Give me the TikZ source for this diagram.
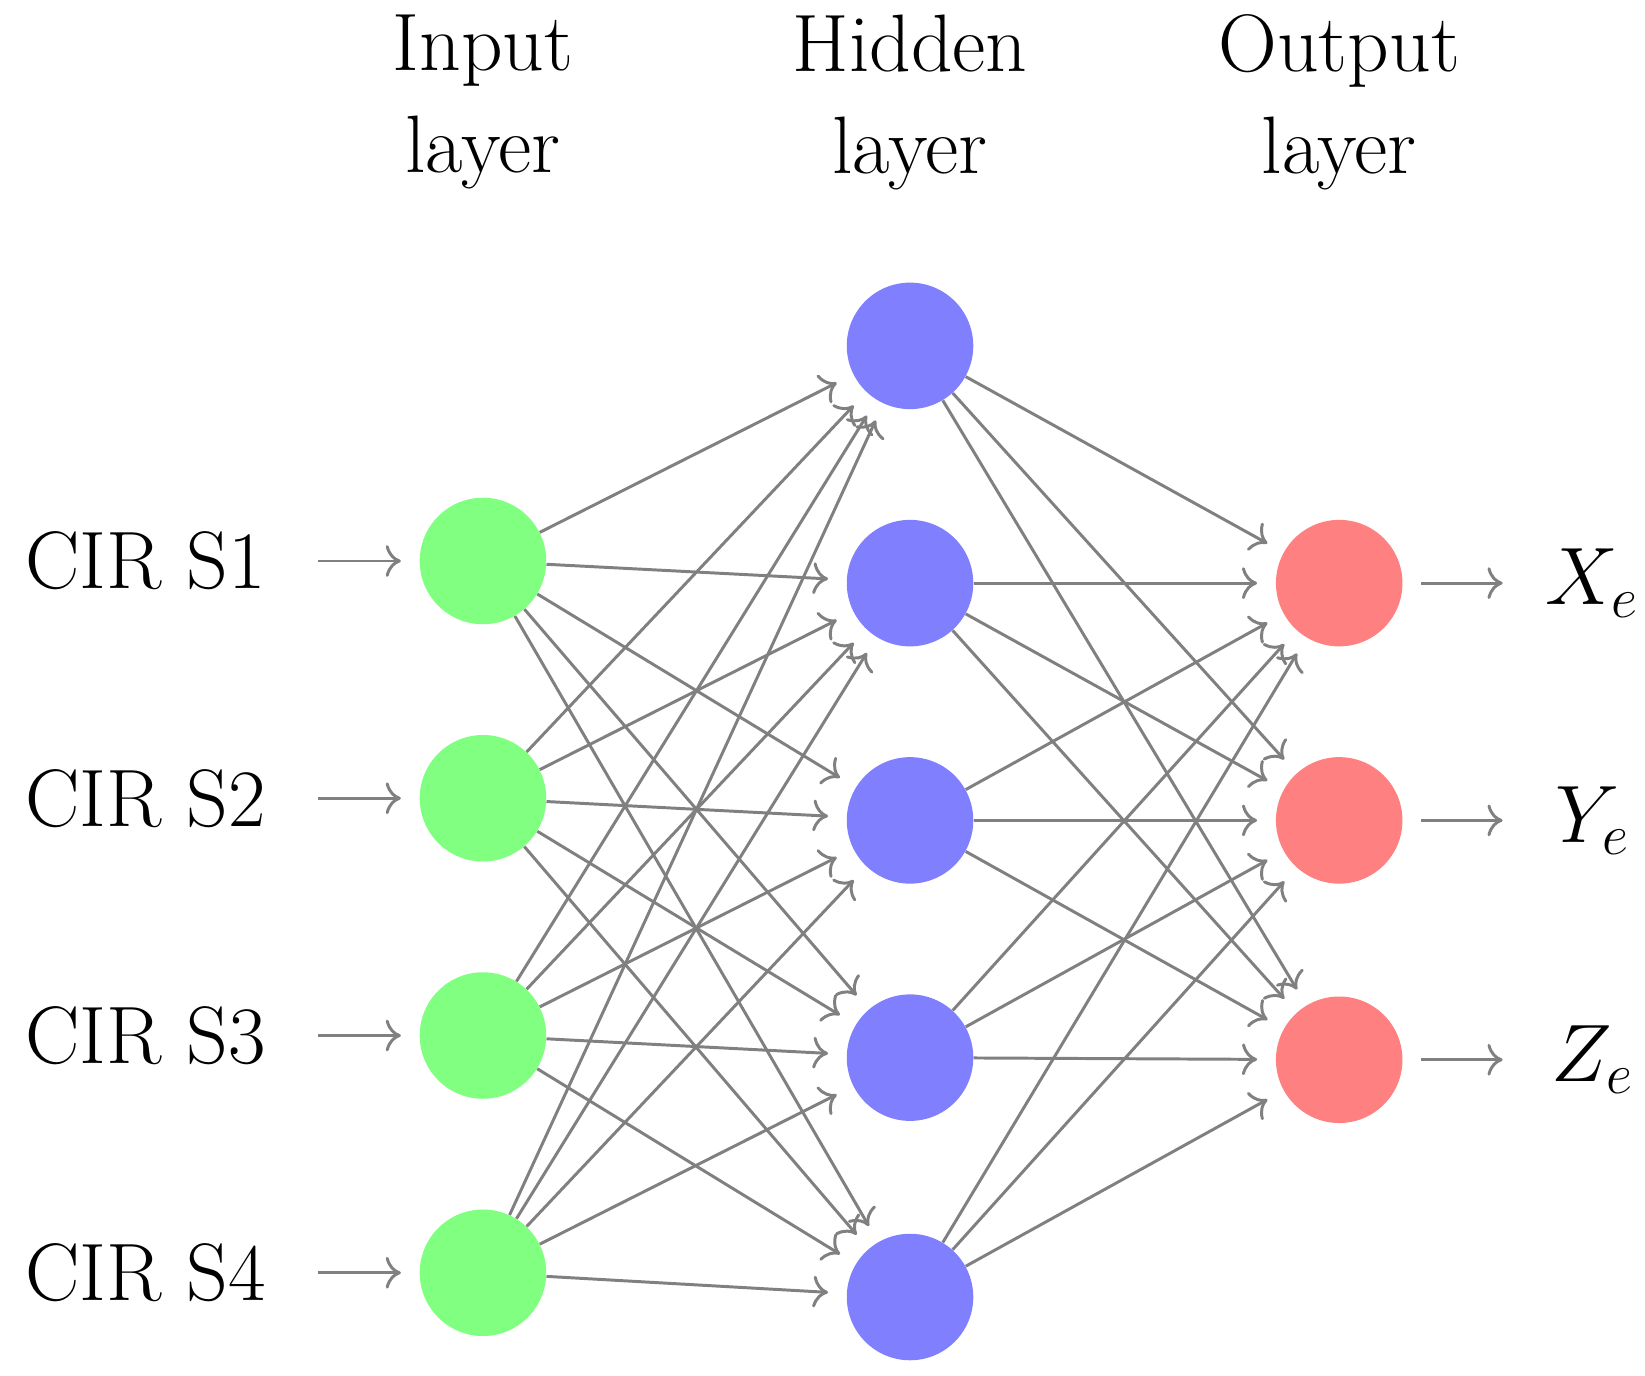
\documentclass[tikz,border=0pt]{standalone}
\usepackage{fix-cm}
\usetikzlibrary{positioning,arrows.meta}
\begin{document}
\begin{tikzpicture}[x=0.02cm, y=-0.02cm,
  every node/.style={font=\fontsize{44}{55}\selectfont},
  neuron/.style={circle, minimum size=2.4cm, inner sep=0pt},
  inneuron/.style={neuron, fill=green!50},
  hidneuron/.style={neuron, fill=blue!50},
  outneuron/.style={neuron, fill=red!50},
  edge/.style={-{To[scale=1.6]}, gray, line width=1.6pt, shorten >=0.35cm},
  title/.style={align=center}]
  \useasboundingbox (0,0) rectangle (1560,1304);

  % titles
  \node[title] (tin) at (458,97) {Input\\layer};
  \node[title] (thid) at (863,97) {Hidden\\layer};
  \node[title] (tout) at (1270,97) {Output\\layer};

  % input layer
  \foreach \i/\y in {1/532,2/757,3/982,4/1207} {
    \node[inneuron] (I\i) at (458,\y) {};
    \node (L\i) at (138,\y) {CIR S\i};
    \coordinate (A\i) at (302,\y);
    \draw[edge] (A\i) -- (I\i.west);
  }

  % hidden layer
  \foreach \j/\y in {1/328,2/553,3/778,4/1003,5/1230}
    \node[hidneuron] (H\j) at (863,\y) {};

  % output layer
  \foreach \k/\y/\t in {1/553/X_e,2/778/Y_e,3/1005/Z_e} {
    \node[outneuron] (O\k) at (1270,\y) {};
    \node (R\k) at (1510,\y) {$\t$};
    \coordinate (B\k) at (1425,\y);
    \draw[edge, shorten >=0pt] (O\k.east) ++(0.35cm,0) -- (B\k);
  }

  % connections
  \foreach \i in {1,...,4}
    \foreach \j in {1,...,5}
      \draw[edge] (I\i) -- (H\j);
  \foreach \j in {1,...,5}
    \foreach \k in {1,2,3}
      \draw[edge] (H\j) -- (O\k);
\end{tikzpicture}
\end{document}
